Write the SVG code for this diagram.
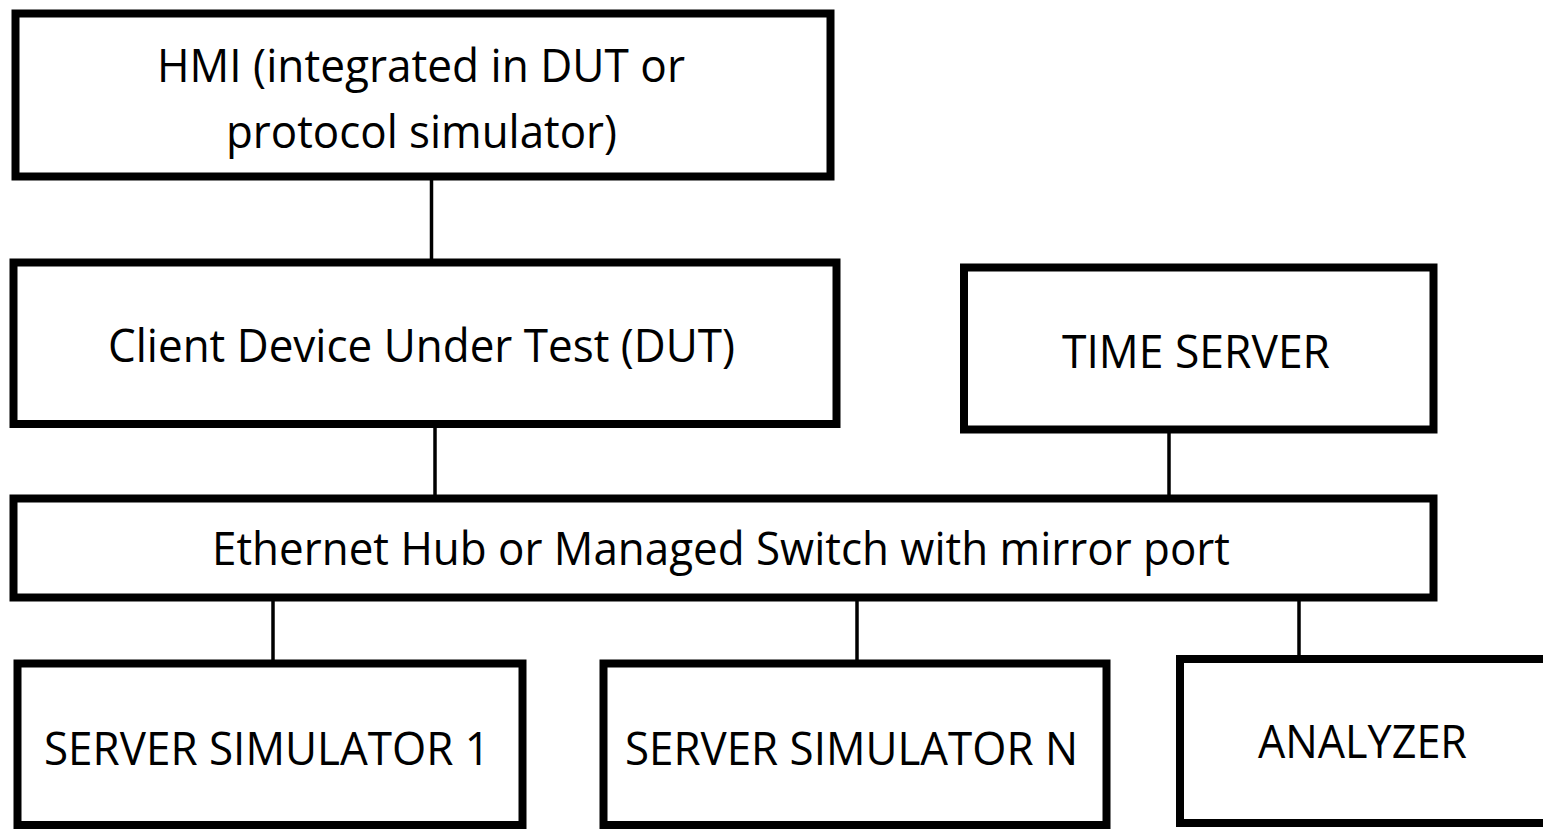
<svg xmlns="http://www.w3.org/2000/svg" width="1543" height="829" viewBox="0 0 1543 829">
<style>
.box{fill:#fff;stroke:#000;stroke-width:8}
.lbl{font-family:"Open Sans","Liberation Sans",sans-serif;font-size:45px;fill:#000}
.conn line{stroke:#000;stroke-width:3.5}
</style>
<rect width="1543" height="829" fill="#fff"/>
<g class="conn" id="connectors">
<line x1="431.5" y1="176" x2="431.5" y2="262"/>
<line x1="435" y1="424" x2="435" y2="498"/>
<line x1="1169" y1="429" x2="1169" y2="498"/>
<line x1="273" y1="597" x2="273" y2="663"/>
<line x1="857" y1="597" x2="857" y2="663"/>
<line x1="1299" y1="597" x2="1299" y2="659"/>
</g>
<g id="hmi">
<rect class="box" x="15.5" y="13.5" width="815" height="163"/>
<text class="lbl" x="157" y="82" textLength="528" lengthAdjust="spacingAndGlyphs">HMI (integrated in DUT or</text>
<text class="lbl" x="226" y="148" textLength="391" lengthAdjust="spacingAndGlyphs">protocol simulator)</text>
</g>
<g id="client">
<rect class="box" x="13.5" y="262.5" width="823" height="161.5"/>
<text class="lbl" x="108" y="362" textLength="627" lengthAdjust="spacingAndGlyphs">Client Device Under Test (DUT)</text>
</g>
<g id="timeserver">
<rect class="box" x="964" y="267.5" width="469.5" height="162"/>
<text class="lbl" x="1062" y="368" textLength="268" lengthAdjust="spacingAndGlyphs">TIME SERVER</text>
</g>
<g id="ethernet">
<rect class="box" x="13.5" y="498.5" width="1420" height="99"/>
<text class="lbl" x="212" y="565" textLength="1018" lengthAdjust="spacingAndGlyphs">Ethernet Hub or Managed Switch with mirror port</text>
</g>
<g id="sim1">
<rect class="box" x="17.5" y="663.5" width="505" height="161.5"/>
<text class="lbl" x="44" y="765" textLength="446" lengthAdjust="spacingAndGlyphs">SERVER SIMULATOR 1</text>
</g>
<g id="simn">
<rect class="box" x="603.5" y="663.5" width="503" height="161.5"/>
<text class="lbl" x="625" y="765" textLength="453" lengthAdjust="spacingAndGlyphs">SERVER SIMULATOR N</text>
</g>
<g id="analyzer">
<rect class="box" x="1180" y="659" width="380" height="164"/>
<text class="lbl" x="1258" y="758" textLength="209" lengthAdjust="spacingAndGlyphs">ANALYZER</text>
</g>
</svg>
